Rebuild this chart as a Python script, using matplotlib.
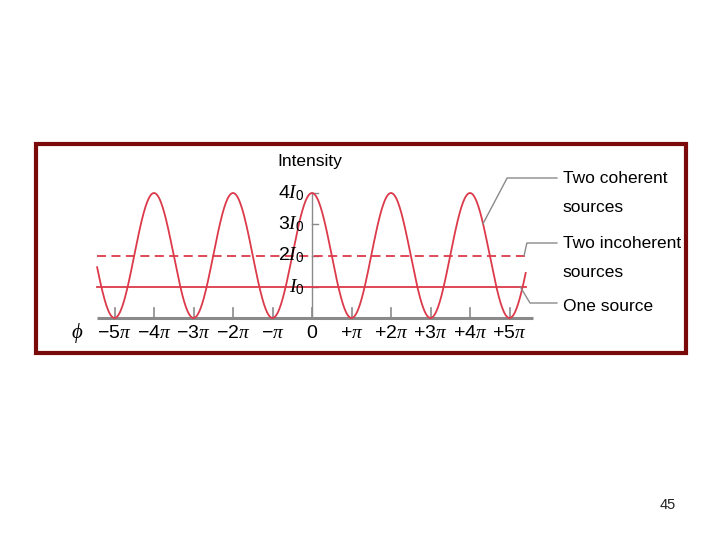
import numpy as np
import matplotlib
matplotlib.use("Agg")
import matplotlib.pyplot as plt
from matplotlib.patches import Rectangle

# mathtext: digits sans, letters (pi, I) serif italic
plt.rcParams['mathtext.fontset'] = 'custom'
plt.rcParams['mathtext.rm'] = 'Liberation Sans'
plt.rcParams['mathtext.it'] = 'Liberation Serif:italic'

# values (intensity in units of I0, phase in units of pi)
phi_start, phi_end = -5.44, 5.41
peak_intensity = 4.0      # two coherent sources
incoherent_level = 2.0    # two incoherent sources
one_source_level = 1.0    # one source
x_ticks = [-5, -4, -3, -2, -1, 0, 1, 2, 3, 4, 5]
x_labels = [r'$-5\pi$', r'$-4\pi$', r'$-3\pi$', r'$-2\pi$', r'$-\pi$', r'$0$',
            r'$+\pi$', r'$+2\pi$', r'$+3\pi$', r'$+4\pi$', r'$+5\pi$']
y_ticks = [1, 2, 3, 4]
y_labels = [r'$I_0$', r'$2I_0$', r'$3I_0$', r'$4I_0$']

phi = np.linspace(phi_start, phi_end, 800)
intensity = peak_intensity * np.cos(np.pi * phi / 2) ** 2

red = '#dc3a4a'
gray = '#8a8a8a'
font = 'Liberation Sans'
fs = 12.5

fig = plt.figure(figsize=(7.2, 5.4), dpi=100)
ax = fig.add_axes([0, 0, 1, 1])
# pixel mapping: phi=0 at x=312, pi = 39.5px ; I=0 at y=318, I0 = 31.25px
ax.set_xlim(-312 / 39.5, (720 - 312) / 39.5)
ax.set_ylim(-222 / 31.25, 318 / 31.25)
ax.axis('off')

# axes
ax.plot([phi_start, 5.6], [0, 0], color=gray, lw=2.2, solid_capstyle='butt')
for t in x_ticks:
    ax.plot([t, t], [0, 0.33], color=gray, lw=1.2)
ax.plot([0, 0], [0, peak_intensity], color=gray, lw=1.0)
for t in y_ticks:
    ax.plot([0, 0.15], [t, t], color=gray, lw=1.0)

# curves
ax.plot(phi, intensity, color=red, lw=1.3)
ax.plot([phi_start, phi_end], [incoherent_level] * 2, color=red, lw=1.3, ls=(0, (5, 3)))
ax.plot([phi_start, phi_end], [one_source_level] * 2, color=red, lw=1.3)

# tick labels
for t, lab in zip(x_ticks, x_labels):
    ax.text(t, -0.48, lab, ha='center', va='center', fontsize=14)
ax.text(-5.95, -0.48, r'$\phi$', ha='center', va='center', fontsize=15)
for t, lab in zip(y_ticks, y_labels):
    ax.text(-0.2, t, lab, ha='right', va='center', fontsize=14)
ax.text(-0.05, 5.02, 'Intensity', ha='center', va='center', fontsize=fs, family=font)

# legend labels with leader lines
lx = 6.35
ax.text(lx, 4.45, 'Two coherent', ha='left', va='center', fontsize=fs, family=font)
ax.text(lx, 3.55, 'sources', ha='left', va='center', fontsize=fs, family=font)
ax.text(lx, 2.37, 'Two incoherent', ha='left', va='center', fontsize=fs, family=font)
ax.text(lx, 1.47, 'sources', ha='left', va='center', fontsize=fs, family=font)
ax.text(lx, 0.38, 'One source', ha='left', va='center', fontsize=fs, family=font)

p_coh = 4.33
ax.plot([6.2, 4.94, p_coh], [4.48, 4.48, peak_intensity * np.cos(np.pi * p_coh / 2) ** 2],
        color=gray, lw=1.0)
ax.plot([6.2, 5.44, 5.37], [2.4, 2.4, incoherent_level], color=gray, lw=1.0)
ax.plot([6.2, 5.52, 5.27], [0.48, 0.48, one_source_level], color=gray, lw=1.0)

# dark red frame
fig.patches.append(Rectangle((36 / 720, 1 - 353 / 540), 650 / 720, 209 / 540,
                             transform=fig.transFigure, fill=False,
                             edgecolor='#7a0a0a', lw=3))

fig.text(668 / 720, 1 - 505 / 540, '45', ha='center', va='center', fontsize=10.5,
         family='Liberation Sans', color='#222222')

fig.savefig('out.png', dpi=100)
